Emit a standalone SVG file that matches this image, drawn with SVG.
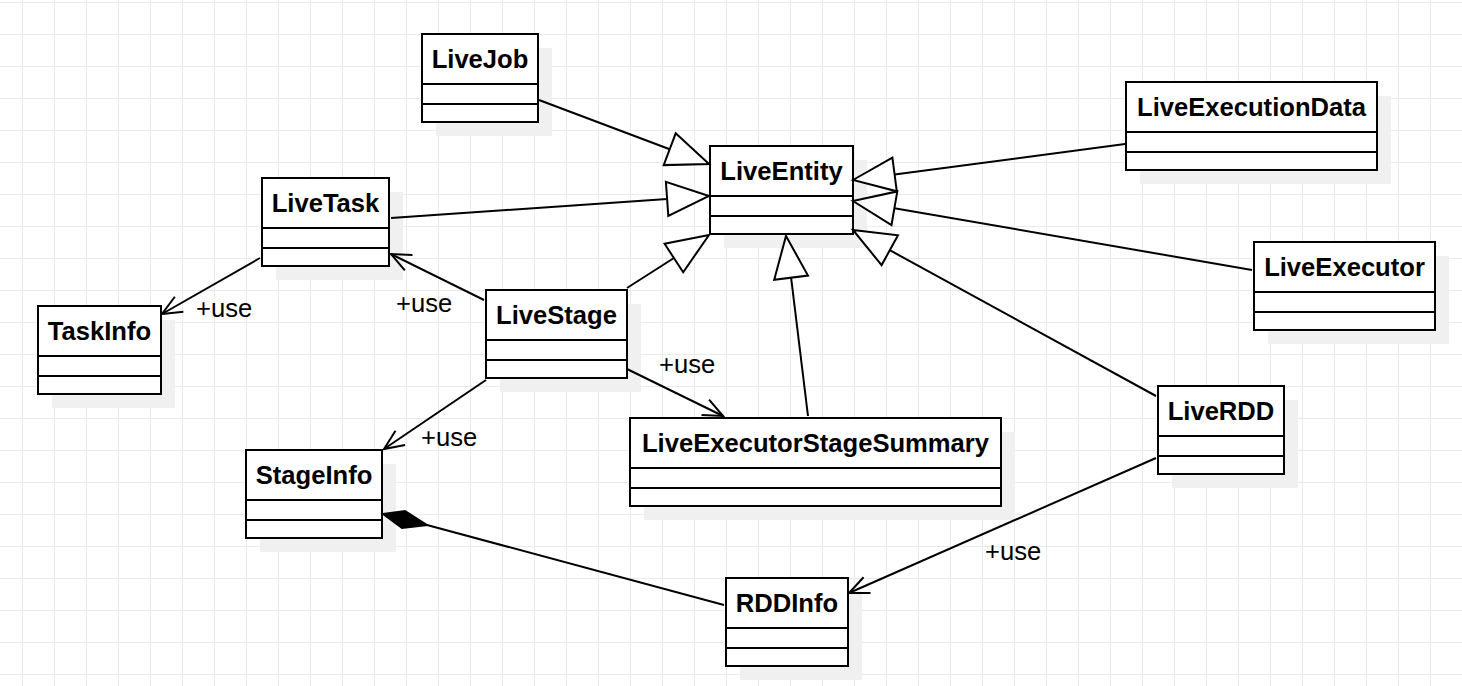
<svg xmlns="http://www.w3.org/2000/svg" width="1462" height="686" viewBox="0 0 1462 686">
<style>
.shadow{fill:#f0f0f0;stroke:none}
.box{fill:#ffffff;stroke:#000000;stroke-width:2}
.div{stroke:#000000;stroke-width:2}
.title{font-family:"Liberation Sans",Arial,Helvetica,sans-serif;font-size:25.6px;font-weight:bold;fill:#000000;text-anchor:middle}
.lbl{font-family:"Liberation Sans",Arial,Helvetica,sans-serif;font-size:25.6px;fill:#000000}
.edge{fill:none;stroke:#000000;stroke-width:2}
.tri{fill:#ffffff;stroke:#000000;stroke-width:2;stroke-linejoin:miter}
</style>
<defs>
<pattern id="grid" x="22" y="2" width="32" height="32" patternUnits="userSpaceOnUse">
<rect x="0" y="0" width="1" height="32" fill="#ebebeb"/>
<rect x="0" y="0" width="32" height="1" fill="#ebebeb"/>
</pattern>
<marker id="open" markerUnits="userSpaceOnUse" markerWidth="30" markerHeight="30" viewBox="-25 -15 30 30" refX="0" refY="0" orient="auto" overflow="visible">
<path d="M-19.7,-8.6 L0,0 L-19.7,8.6" fill="none" stroke="#000000" stroke-width="2"/>
</marker>
</defs>
<rect x="0" y="0" width="1462" height="686" fill="#ffffff"/>
<rect x="0" y="0" width="1462" height="686" fill="url(#grid)"/>

<g id="LiveJob">
<rect class="shadow" x="436" y="48" width="116" height="88"/>
<rect class="box" x="422" y="34" width="116" height="88"/>
<line class="div" x1="422" y1="84" x2="538" y2="84"/>
<line class="div" x1="422" y1="104" x2="538" y2="104"/>
<text class="title" x="480" y="68">LiveJob</text>
</g>
<g id="LiveEntity">
<rect class="shadow" x="724" y="160" width="143" height="88"/>
<rect class="box" x="710" y="146" width="143" height="88"/>
<line class="div" x1="710" y1="196" x2="853" y2="196"/>
<line class="div" x1="710" y1="216" x2="853" y2="216"/>
<text class="title" x="781.5" y="180">LiveEntity</text>
</g>
<g id="LiveExecutionData">
<rect class="shadow" x="1140" y="96" width="251" height="88"/>
<rect class="box" x="1126" y="82" width="251" height="88"/>
<line class="div" x1="1126" y1="132" x2="1377" y2="132"/>
<line class="div" x1="1126" y1="152" x2="1377" y2="152"/>
<text class="title" x="1251.5" y="116">LiveExecutionData</text>
</g>
<g id="LiveTask">
<rect class="shadow" x="276" y="192" width="127" height="88"/>
<rect class="box" x="262" y="178" width="127" height="88"/>
<line class="div" x1="262" y1="228" x2="389" y2="228"/>
<line class="div" x1="262" y1="248" x2="389" y2="248"/>
<text class="title" x="325.5" y="212">LiveTask</text>
</g>
<g id="LiveExecutor">
<rect class="shadow" x="1268" y="256" width="181" height="88"/>
<rect class="box" x="1254" y="242" width="181" height="88"/>
<line class="div" x1="1254" y1="292" x2="1435" y2="292"/>
<line class="div" x1="1254" y1="312" x2="1435" y2="312"/>
<text class="title" x="1344.5" y="276">LiveExecutor</text>
</g>
<g id="TaskInfo">
<rect class="shadow" x="52" y="320" width="123" height="88"/>
<rect class="box" x="38" y="306" width="123" height="88"/>
<line class="div" x1="38" y1="356" x2="161" y2="356"/>
<line class="div" x1="38" y1="376" x2="161" y2="376"/>
<text class="title" x="99.5" y="340">TaskInfo</text>
</g>
<g id="LiveStage">
<rect class="shadow" x="500" y="304" width="141" height="88"/>
<rect class="box" x="486" y="290" width="141" height="88"/>
<line class="div" x1="486" y1="340" x2="627" y2="340"/>
<line class="div" x1="486" y1="360" x2="627" y2="360"/>
<text class="title" x="556.5" y="324">LiveStage</text>
</g>
<g id="LiveExecutorStageSummary">
<rect class="shadow" x="644" y="432" width="371" height="88"/>
<rect class="box" x="630" y="418" width="371" height="88"/>
<line class="div" x1="630" y1="468" x2="1001" y2="468"/>
<line class="div" x1="630" y1="488" x2="1001" y2="488"/>
<text class="title" x="815.5" y="452">LiveExecutorStageSummary</text>
</g>
<g id="LiveRDD">
<rect class="shadow" x="1172" y="400" width="126" height="88"/>
<rect class="box" x="1158" y="386" width="126" height="88"/>
<line class="div" x1="1158" y1="436" x2="1284" y2="436"/>
<line class="div" x1="1158" y1="456" x2="1284" y2="456"/>
<text class="title" x="1221" y="420">LiveRDD</text>
</g>
<g id="StageInfo">
<rect class="shadow" x="260" y="464" width="136" height="88"/>
<rect class="box" x="246" y="450" width="136" height="88"/>
<line class="div" x1="246" y1="500" x2="382" y2="500"/>
<line class="div" x1="246" y1="520" x2="382" y2="520"/>
<text class="title" x="314" y="484">StageInfo</text>
</g>
<g id="RDDInfo">
<rect class="shadow" x="740" y="592" width="122" height="88"/>
<rect class="box" x="726" y="578" width="122" height="88"/>
<line class="div" x1="726" y1="628" x2="848" y2="628"/>
<line class="div" x1="726" y1="648" x2="848" y2="648"/>
<text class="title" x="787" y="612">RDDInfo</text>
</g>

<g id="connectors">
<!-- generalizations -->
<line class="edge" x1="539" y1="100" x2="669.7" y2="149.2"/>
<polygon class="tri" points="709,164 675.7,133.3 663.7,165.1"/>
<line class="edge" x1="391" y1="218" x2="667.1" y2="198.9"/>
<polygon class="tri" points="709,196 665.9,181.9 668.3,215.9"/>
<line class="edge" x1="627" y1="288" x2="673.9" y2="258"/>
<polygon class="tri" points="709,235 664.6,243.8 683.2,272.2"/>
<line class="edge" x1="1125" y1="144" x2="894.6" y2="174.5"/>
<polygon class="tri" points="853,180 892.4,157.7 896.8,191.3"/>
<line class="edge" x1="1252" y1="270" x2="894.4" y2="208.2"/>
<polygon class="tri" points="853,201 897.3,191.4 891.5,225"/>
<line class="edge" x1="1156" y1="396" x2="889.8" y2="250.2"/>
<polygon class="tri" points="853,230 898,235.3 881.6,265.1"/>
<line class="edge" x1="808" y1="416" x2="791.1" y2="277.7"/>
<polygon class="tri" points="786,236 808,275.6 774.2,279.8"/>
<!-- use associations -->
<line class="edge" x1="260" y1="258" x2="162" y2="314" marker-end="url(#open)"/>
<text class="lbl" x="196" y="317">+use</text>
<line class="edge" x1="484" y1="300" x2="391" y2="254" marker-end="url(#open)"/>
<text class="lbl" x="396" y="312">+use</text>
<line class="edge" x1="627" y1="369" x2="723" y2="416" marker-end="url(#open)"/>
<text class="lbl" x="659" y="373">+use</text>
<line class="edge" x1="486" y1="380" x2="384" y2="449" marker-end="url(#open)"/>
<text class="lbl" x="421" y="446">+use</text>
<line class="edge" x1="1156" y1="458" x2="849" y2="593" marker-end="url(#open)"/>
<text class="lbl" x="985" y="560">+use</text>
<!-- composition -->
<line class="edge" x1="724" y1="605" x2="427" y2="525"/>
<polygon points="383,514 405,511 427,525 402,528" fill="#000000" stroke="#000000" stroke-width="2" stroke-linejoin="miter"/>
</g>
</svg>
